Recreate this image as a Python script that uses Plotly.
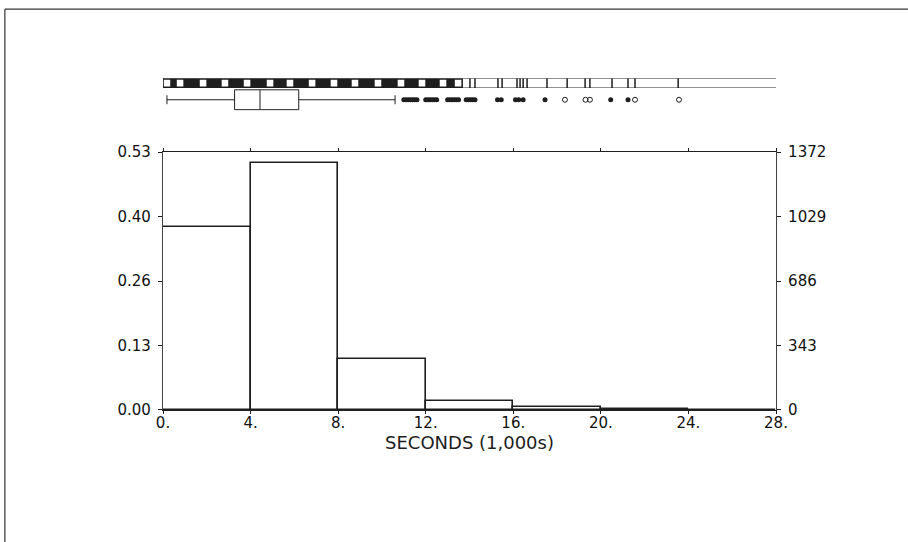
import plotly.graph_objects as go

# ---- data ----
bin_left = [0, 4, 8, 12, 16, 20, 24]
bin_width = 4
proportions = [0.376, 0.508, 0.105, 0.018, 0.006, 0.003, 0.001]
count_max = 1372
prop_max = 0.53
left_tickvals = [0, 0.1325, 0.265, 0.3975, 0.53]
left_ticktext = ["0.00", "0.13", "0.26", "0.40", "0.53"]
right_tickvals = [0, 343, 686, 1029, 1372]
x_tickvals = [0, 4, 8, 12, 16, 20, 24, 28]
x_ticktext = ["0.", "4.", "8.", "12.", "16.", "20.", "24.", "28."]
x_title = "SECONDS (1,000s)"

# box plot summary
box_low, box_q1, box_med, box_q3, box_high = 0.18, 3.27, 4.43, 6.2, 10.6
outliers_dense = [11.0, 11.1, 11.2, 11.3, 11.4, 11.5, 11.6,
                  12.0, 12.1, 12.2, 12.3, 12.4, 12.5,
                  13.0, 13.1, 13.2, 13.3, 13.4, 13.5,
                  13.85, 13.95, 14.05, 14.15, 14.25,
                  15.28, 15.45, 16.1, 16.25, 16.45, 17.45, 20.45, 21.24]
outliers_sparse = [18.36, 19.3, 19.5, 21.56, 23.57]

# density strip
strip_dark_end = 13.7
strip_gaps = [0.18, 0.78, 1.83, 2.83, 3.84, 4.89, 5.8, 6.81, 7.81, 8.77,
              9.82, 10.87, 11.83, 12.79, 13.48]
strip_rug = [14.02, 14.25, 15.3, 15.49, 16.17, 16.31, 16.45, 16.63, 17.54,
             18.46, 19.28, 19.5, 20.51, 21.24, 21.56, 23.53]
strip_end = 28.1

FONT = "DejaVu Sans, Liberation Sans, sans-serif"
INK = "#1e1e1e"

fig = go.Figure()

centers = [b + bin_width / 2 for b in bin_left]
fig.add_trace(go.Bar(
    x=centers, y=proportions, width=[bin_width] * len(centers),
    marker=dict(color="white", line=dict(color=INK, width=1.6)),
    xaxis="x", yaxis="y", showlegend=False, hoverinfo="skip"))

# invisible trace for right count axis
fig.add_trace(go.Scatter(x=[0], y=[0], mode="markers", marker=dict(opacity=0),
                         xaxis="x", yaxis="y2", showlegend=False, hoverinfo="skip"))

fig.add_trace(go.Box(
    y=[0], q1=[box_q1], median=[box_med], q3=[box_q3],
    lowerfence=[box_low], upperfence=[box_high], orientation="h",
    fillcolor="white", line=dict(color=INK, width=1), whiskerwidth=0.45,
    width=0.9, boxpoints=False, xaxis="x", yaxis="y3", showlegend=False,
    hoverinfo="skip"))

fig.add_trace(go.Scatter(
    x=outliers_dense, y=[0] * len(outliers_dense), mode="markers",
    marker=dict(symbol="circle", size=5, color=INK),
    xaxis="x", yaxis="y3", showlegend=False, hoverinfo="skip"))
fig.add_trace(go.Scatter(
    x=outliers_sparse, y=[0] * len(outliers_sparse), mode="markers",
    marker=dict(symbol="circle-open", size=5, color=INK, line=dict(width=1)),
    xaxis="x", yaxis="y3", showlegend=False, hoverinfo="skip"))

shapes = []
# strip
shapes.append(dict(type="rect", xref="x", yref="y4", x0=0, x1=strip_dark_end, y0=0, y1=1,
                   fillcolor=INK, line=dict(width=0), layer="above"))
gap_w = 0.3
for g in strip_gaps:
    shapes.append(dict(type="rect", xref="x", yref="y4", x0=g - gap_w / 2, x1=g + gap_w / 2,
                       y0=0.15, y1=0.85, fillcolor="white", line=dict(width=0), layer="above"))
for r in strip_rug:
    shapes.append(dict(type="line", xref="x", yref="y4", x0=r, x1=r, y0=0, y1=1,
                       line=dict(color=INK, width=1.5), layer="above"))
shapes.append(dict(type="rect", xref="x", yref="y4", x0=0, x1=strip_end, y0=0, y1=1,
                   line=dict(color=INK, width=1), layer="above"))
# outer frame (top & left edges)
shapes.append(dict(type="line", xref="paper", yref="paper", x0=-0.258, x1=1.3,
                   y0=1.179, y1=1.179, line=dict(color="#333", width=1.2)))
shapes.append(dict(type="line", xref="paper", yref="paper", x0=-0.258, x1=-0.258,
                   y0=1.179, y1=-0.4, line=dict(color="#333", width=1.2)))

tickfont = dict(family=FONT, size=15, color="#111")

fig.update_layout(
    width=908, height=542,
    margin=dict(l=163, r=132, t=70, b=132),
    paper_bgcolor="white", plot_bgcolor="white",
    bargap=0, shapes=shapes,
    xaxis=dict(range=[0, 28], tickvals=x_tickvals, ticktext=x_ticktext,
               showgrid=False, zeroline=False, showline=True, linecolor=INK, linewidth=1.2,
               mirror="ticks", ticks="outside", ticklen=3, tickcolor=INK,
               tickfont=tickfont, anchor="y", ticklabelstandoff=-4,
               title=dict(text=x_title, font=dict(family=FONT, size=18, color=INK), standoff=0)),
    yaxis=dict(domain=[0, 0.7588], range=[0, prop_max], tickvals=left_tickvals,
               ticktext=left_ticktext, showgrid=False, zeroline=False, showline=True,
               linecolor="#444", linewidth=1.2, ticks="outside", ticklen=4, tickcolor=INK,
               tickfont=tickfont, anchor="x", ticklabelstandoff=4),
    yaxis2=dict(overlaying="y", side="right", range=[0, count_max], tickvals=right_tickvals,
                showgrid=False, zeroline=False, showline=True, linecolor="#444", linewidth=1.2,
                ticks="outside", ticklen=4, tickcolor=INK, tickfont=tickfont, anchor="x",
                ticklabelstandoff=4),
    yaxis3=dict(domain=[0.88, 0.945], range=[-0.5, 0.5], visible=False, anchor="x"),
    yaxis4=dict(domain=[0.947, 0.976], range=[0, 1], visible=False, anchor="x"),
)

fig.write_html("out.html", config={"displayModeBar": False},
               post_script="document.body.style.margin='0px';")
